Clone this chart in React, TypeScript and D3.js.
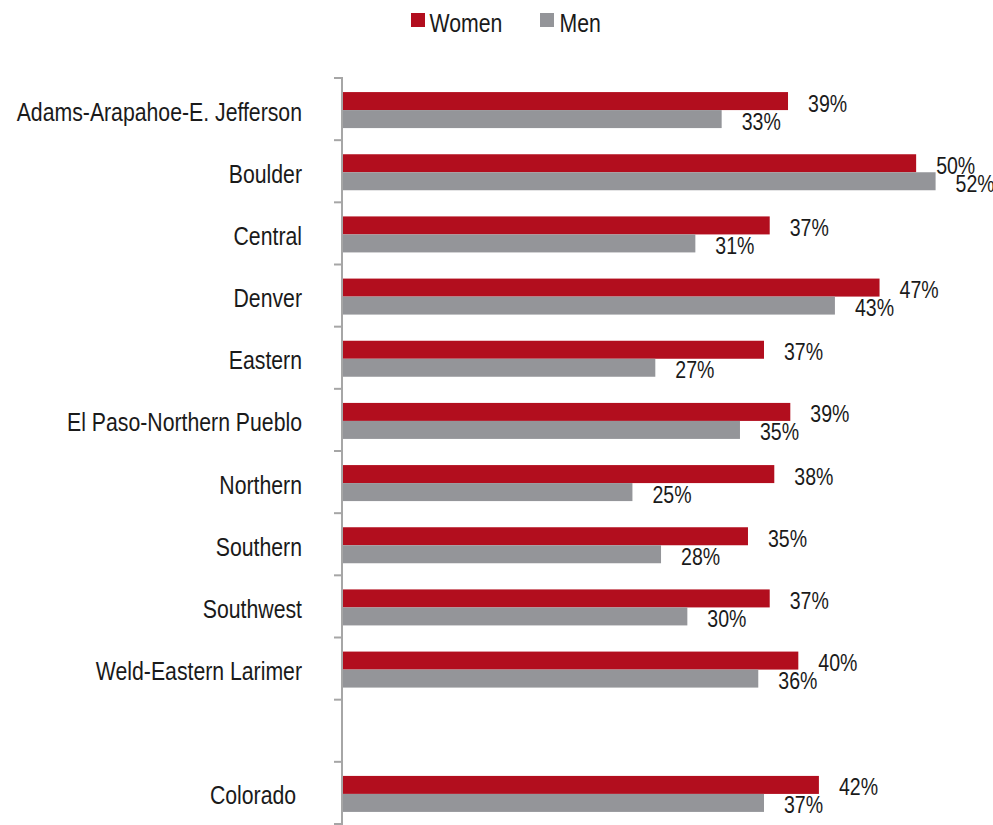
import React from "react";
import * as d3 from "d3";

const categories = [
  "Adams-Arapahoe-E. Jefferson",
  "Boulder",
  "Central",
  "Denver",
  "Eastern",
  "El Paso-Northern Pueblo",
  "Northern",
  "Southern",
  "Southwest",
  "Weld-Eastern Larimer",
  "",
  "Colorado ",
];
const women: (number | null)[] = [38.9, 50.1, 37.3, 46.9, 36.8, 39.1, 37.7, 35.4, 37.3, 39.8, null, 41.6];
const men: (number | null)[] = [33.1, 51.8, 30.8, 43.0, 27.3, 34.7, 25.3, 27.8, 30.1, 36.3, null, 36.8];
const seriesNames = ["Women", "Men"];

const W = 993;
const H = 825;
const RED = "#B20E1E";
const GRAY = "#949599";
const AXIS = "#A6A6A6";
const FONT = "'Liberation Sans', Arial, sans-serif";
const SX = 0.85;

function Txt({
  x,
  y,
  size,
  anchor = "start",
  children,
}: {
  x: number;
  y: number;
  size: number;
  anchor?: string;
  children: React.ReactNode;
}) {
  return (
    <text
      transform={`translate(${x},${y}) scale(${SX},1)`}
      fontSize={size}
      textAnchor={anchor}
      fill="#1a1a1a"
      style={{ whiteSpace: "pre" }}
    >
      {children}
    </text>
  );
}

export default function App() {
  const x = d3.scaleLinear().domain([0, 52]).range([343, 343 + 52 * 11.44]);
  const y = d3
    .scaleBand<number>()
    .domain(categories.map((_, i) => i))
    .range([78, 824])
    .paddingInner(0)
    .paddingOuter(0);
  const step = y.step();
  const barH = 18;
  const boundaries = d3.range(categories.length + 1).map((i) => 78 + i * step);
  const colors = [RED, GRAY];
  const series = [women, men];

  return (
    <svg
      width={W}
      height={H}
      style={{ position: "absolute", left: 0, top: 0, background: "#fff" }}
      fontFamily={FONT}
    >
      {/* legend */}
      <g>
        <rect x={411} y={13} width={14} height={14} fill={RED} />
        <Txt x={429.5} y={31.5} size={25}>
          {seriesNames[0]}
        </Txt>
        <rect x={540} y={13} width={14} height={14} fill={GRAY} />
        <Txt x={559.5} y={31.5} size={25}>
          {seriesNames[1]}
        </Txt>
      </g>

      {/* bars */}
      {categories.map((cat, i) => {
        const c = (y(i) as number) + step / 2 + 1;
        return (
          <g key={i}>
            {series.map((s, si) => {
              const v = s[i];
              if (v == null) return null;
              const top = si === 0 ? c - barH : c;
              const x1 = x(v);
              return (
                <g key={si}>
                  <rect x={x(0)} y={top} width={x1 - x(0)} height={barH} fill={colors[si]} />
                  <Txt x={x1 + 20} y={top + barH + 1.5} size={23}>
                    {Math.round(v) + "%"}
                  </Txt>
                </g>
              );
            })}
            {cat && (
              <Txt x={302} y={c + 10.5} size={25} anchor="end">
                {cat}
              </Txt>
            )}
          </g>
        );
      })}

      {/* axis */}
      <line x1={342} x2={342} y1={78} y2={824} stroke={AXIS} strokeWidth={2} />
      {boundaries.map((b, i) => (
        <line key={i} x1={334} x2={343} y1={b} y2={b} stroke={AXIS} strokeWidth={2} />
      ))}
    </svg>
  );
}
